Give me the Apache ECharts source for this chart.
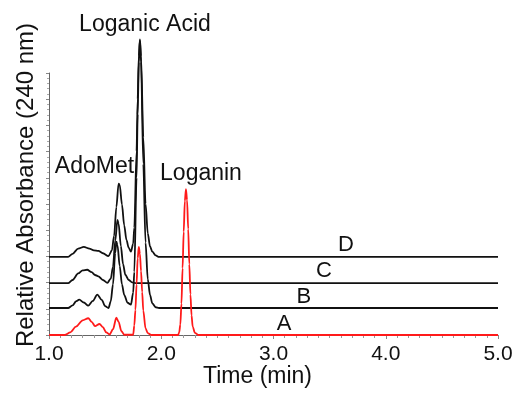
<!DOCTYPE html>
<html>
<head>
<meta charset="utf-8">
<script src="https://cdn.jsdelivr.net/npm/echarts@6/dist/echarts.min.js"></script>
<style>
  html, body { margin: 0; padding: 0; background: #fff; }
  #chart { width: 517px; height: 394px; }
</style>
</head>
<body>
<div id="chart"></div>
<script>
// time axis (min)
const xTicks = [1, 2, 3, 4, 5];
const tickLabels = ["1.0", "2.0", "3.0", "4.0", "5.0"];

// chromatograms, stacked: [time, relative absorbance]
const traceA = [
  [1.00, 0], [1.14, 0], [1.19, 1.0], [1.24, 3.2], [1.30, 5.6], [1.35, 6.4], [1.38, 5.0],
  [1.41, 3.4], [1.45, 4.2], [1.48, 3.0], [1.51, 1.0], [1.54, 0.2], [1.57, 2.2], [1.60, 6.6],
  [1.62, 5.0], [1.645, 1.5], [1.67, 0.1], [1.75, 0.1], [1.76, 3.7], [1.77, 9.6], [1.78, 19.3],
  [1.79, 29.3], [1.80, 33.6], [1.81, 31.0], [1.82, 24.4], [1.83, 16.4], [1.84, 9.3], [1.86, 2.5],
  [1.88, 0.7], [1.91, 0], [2.15, 0], [2.16, 1.0], [2.17, 4.0], [2.18, 12.0], [2.19, 25.5],
  [2.20, 39.4], [2.21, 51.1], [2.22, 55.7], [2.23, 51.5], [2.24, 40.5], [2.25, 27.0],
  [2.26, 15.5], [2.27, 7.5], [2.28, 3.2], [2.30, 0.8], [2.33, 0], [5.00, 0]
];
const traceB = [
  [1.00, 10.3], [1.17, 10.3], [1.21, 11.3], [1.24, 12.8], [1.27, 13.5], [1.31, 12.4],
  [1.35, 11.2], [1.39, 13.0], [1.43, 15.4], [1.47, 13.4], [1.50, 11.0], [1.53, 10.3],
  [1.55, 12.8], [1.57, 19.3], [1.59, 31.3], [1.60, 35.6], [1.61, 34.3], [1.63, 26.3],
  [1.65, 19.3], [1.67, 15.3], [1.70, 12.3], [1.73, 11.6], [1.75, 16.2], [1.76, 24.1],
  [1.78, 60.0], [1.79, 84.3], [1.80, 104.3], [1.81, 112.3], [1.82, 104.3], [1.84, 65.3],
  [1.86, 35.3], [1.88, 21.3], [1.90, 15.3], [1.92, 12.1], [1.95, 10.6], [1.98, 10.3],
  [5.00, 10.3]
];
const traceC = [
  [1.00, 19.8], [1.17, 19.8], [1.21, 21.0], [1.26, 23.5], [1.30, 24.7], [1.34, 24.9],
  [1.38, 24.0], [1.41, 22.9], [1.44, 22.4], [1.48, 21.0], [1.52, 19.9], [1.55, 21.5],
  [1.57, 26.0], [1.59, 36.0], [1.61, 43.9], [1.62, 42.5], [1.64, 34.0], [1.66, 27.0],
  [1.68, 23.0], [1.71, 21.0], [1.74, 20.1], [1.77, 19.8], [5.00, 19.8]
];
const traceD = [
  [1.00, 29.8], [1.17, 29.8], [1.21, 31.0], [1.26, 33.0], [1.31, 33.6], [1.36, 33.0],
  [1.40, 32.3], [1.44, 32.1], [1.48, 31.2], [1.53, 30.1], [1.56, 32.3], [1.58, 37.8],
  [1.60, 48.8], [1.62, 57.8], [1.63, 57.3], [1.65, 49.8], [1.67, 41.8], [1.69, 36.3],
  [1.71, 33.3], [1.73, 31.8], [1.75, 34.9], [1.76, 41.0], [1.78, 70.2], [1.79, 90.1],
  [1.80, 106.4], [1.81, 112.8], [1.82, 106.3], [1.84, 75.5], [1.86, 50.1], [1.88, 38.8],
  [1.90, 33.8], [1.92, 31.8], [1.95, 30.4], [1.98, 29.8], [5.00, 29.8]
];

// annotations: [text, time, value at text middle]
const peakNotes = [
  ["Loganic Acid", 1.855, 118.3],
  ["AdoMet", 1.405, 64.2],
  ["Loganin", 2.354, 61.7]
];
const traceNotes = [
  ["D", 3.646, 34.4],
  ["C", 3.45, 24.6],
  ["B", 3.27, 14.5],
  ["A", 3.094, 4.3]
];

const font = "'Liberation Sans', Arial, Helvetica, sans-serif";
const ink = "#111";

const traces = [
  { name: "D", data: traceD, color: "#111" },
  { name: "C", data: traceC, color: "#111" },
  { name: "B", data: traceB, color: "#111" },
  { name: "A", data: traceA, color: "#ff1a1a" }
];

const chart = echarts.init(document.getElementById("chart"));

chart.setOption({
  animation: false,
  backgroundColor: "#fff",
  grid: { left: 49, right: 19, top: 73, bottom: 59, outerBoundsMode: "none" },
  xAxis: {
    type: "value",
    min: 1,
    max: 5,
    interval: 1,
    axisLine: { onZero: false, lineStyle: { color: "#666", width: 1 } },
    axisTick: { length: 4, lineStyle: { color: "#888" } },
    minorTick: { show: true, splitNumber: 10, length: 3, lineStyle: { color: "#999" } },
    axisLabel: {
      fontFamily: font,
      fontSize: 21,
      color: ink,
      margin: 9,
      formatter: (v) => tickLabels[xTicks.indexOf(v)]
    },
    splitLine: { show: false }
  },
  yAxis: {
    type: "value",
    min: 0,
    max: 100,
    interval: 10,
    axisLine: { show: true, lineStyle: { color: "#666", width: 1 } },
    axisTick: { show: true, length: 3, lineStyle: { color: "#888" } },
    minorTick: { show: true, splitNumber: 5, length: 2, lineStyle: { color: "#aaa" } },
    axisLabel: { show: false },
    splitLine: { show: false }
  },
  series: traces.map((t, i) => ({
    name: t.name,
    type: "line",
    data: t.data,
    showSymbol: false,
    smooth: 0.3,
    smoothMonotone: "x",
    clip: false,
    z: 2 + i,
    lineStyle: { color: t.color, width: 1.8 }
  }))
});

const textAt = (text, t, v, size) => {
  const [x, y] = chart.convertToPixel({ gridIndex: 0 }, [t, v]);
  return {
    type: "text",
    x,
    y,
    z: 20,
    style: { text, fill: ink, font: `${size}px ${font}`, align: "center", verticalAlign: "middle" }
  };
};

chart.setOption({
  graphic: [
    ...peakNotes.map((n) => textAt(n[0], n[1], n[2], 23)),
    ...traceNotes.map((n) => textAt(n[0], n[1], n[2], 22)),
    {
      type: "text",
      x: 257.5,
      y: 376.7,
      style: { text: "Time (min)", fill: ink, font: `23px ${font}`, align: "center", verticalAlign: "middle" }
    },
    {
      type: "text",
      x: 26,
      y: 185,
      rotation: Math.PI / 2,
      style: { text: "Relative Absorbance (240 nm)", fill: ink, font: `24px ${font}`, align: "center", verticalAlign: "middle" }
    }
  ]
});
</script>
</body>
</html>
